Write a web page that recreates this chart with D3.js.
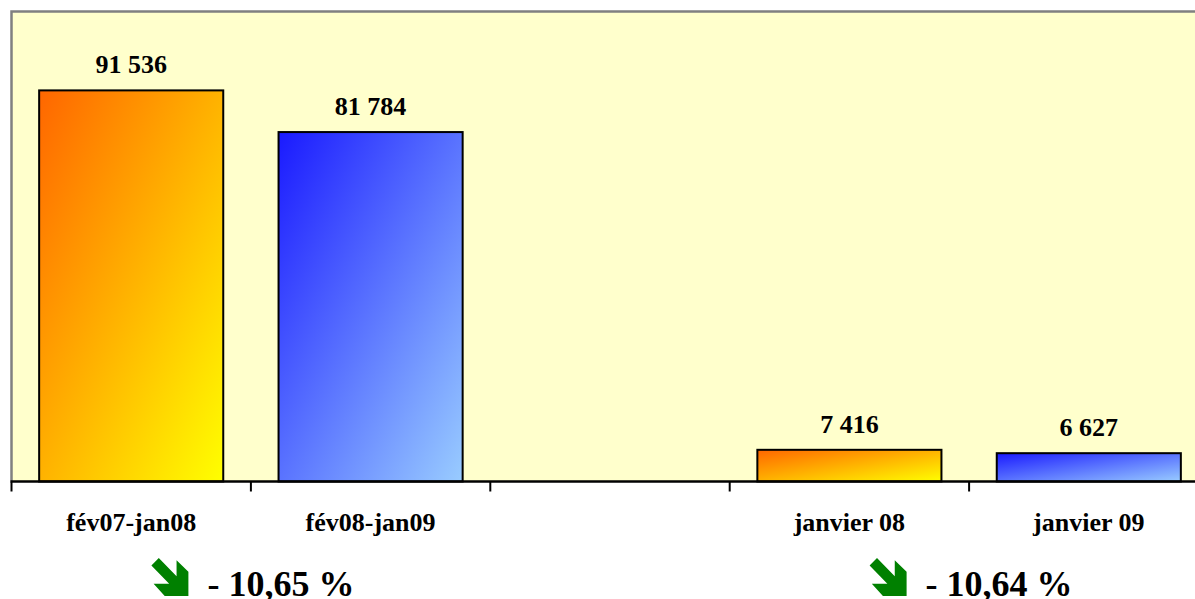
<!DOCTYPE html>
<html>
<head>
<meta charset="utf-8">
<script src="https://cdn.jsdelivr.net/npm/d3@7"></script>
<style>
  html, body { margin: 0; padding: 0; background: #ffffff; overflow: hidden; }
  svg { display: block; }
  text { font-family: "Liberation Serif", "Times New Roman", serif; font-weight: bold; fill: #000; }
</style>
</head>
<body>
<svg id="chart" width="1195" height="599"></svg>
<script>
// ---- data ----
const categories = ["fév07-jan08", "fév08-jan09", "", "janvier 08", "janvier 09"];
const values     = [91536, 81784, null, 7416, 6627];
const seriesKind = ["orange", "blue", null, "orange", "blue"];
const valueLabels = ["91 536", "81 784", "", "7 416", "6 627"];
const changeLabels = ["- 10,65 %", "- 10,64 %"];
const changeAt = [1, 4];          // boundary index (between categories) where each change label sits
const yDomain = [0, 110000];

// ---- layout ----
const svg = d3.select("#chart");
const W = 1195, H = 599;
const x0 = 11.5, x1 = 1208.5, yTop = 11.5, yBase = 481.5;

const x = d3.scaleBand().domain(d3.range(categories.length))
  .range([x0, x1]).paddingInner(0.231).paddingOuter(0.1155);
const y = d3.scaleLinear().domain(yDomain).range([yBase, yTop]);

const defs = svg.append("defs");
function grad(id, c0, c1) {
  const g = defs.append("linearGradient").attr("id", id)
    .attr("x1", 0).attr("y1", 0).attr("x2", 1).attr("y2", 1);
  g.append("stop").attr("offset", "0%").attr("stop-color", c0);
  g.append("stop").attr("offset", "100%").attr("stop-color", c1);
}
grad("g-orange", "#FF6600", "#FFFF00");
grad("g-blue", "#1A1AFF", "#99CCFF");

// plot background
svg.append("rect").attr("x", x0).attr("y", yTop)
  .attr("width", W - x0 + 5).attr("height", yBase - yTop)
  .attr("fill", "#FFFFCC");
// top & left gray border
svg.append("path")
  .attr("d", `M${x0},${yBase}V${yTop}H${W + 5}`)
  .attr("fill", "none").attr("stroke", "#808080").attr("stroke-width", 2.5);

// bars
const idx = d3.range(categories.length).filter(i => values[i] != null);
svg.append("g").selectAll("rect").data(idx).join("rect")
  .attr("x", i => x(i))
  .attr("y", i => y(values[i]))
  .attr("width", x.bandwidth())
  .attr("height", i => y(0) - y(values[i]))
  .attr("fill", i => `url(#g-${seriesKind[i]})`)
  .attr("stroke", "#000").attr("stroke-width", 2);

// value labels
svg.append("g").selectAll("text").data(idx).join("text")
  .attr("x", i => x(i) + x.bandwidth() / 2)
  .attr("y", i => y(values[i]) - 17)
  .attr("text-anchor", "middle")
  .style("font-size", "26px")
  .text(i => valueLabels[i]);

// x axis line + ticks at category boundaries
const half = (x.step() - x.bandwidth()) / 2;
const boundaries = d3.range(categories.length + 1).map(i =>
  i < categories.length ? x(i) - half : x(categories.length - 1) + x.bandwidth() + half);
svg.append("line").attr("x1", x0 - 1).attr("x2", W + 5)
  .attr("y1", yBase).attr("y2", yBase)
  .attr("stroke", "#000").attr("stroke-width", 2.5);
svg.append("g").selectAll("line").data(boundaries).join("line")
  .attr("x1", d => d).attr("x2", d => d)
  .attr("y1", yBase).attr("y2", yBase + 10)
  .attr("stroke", "#000").attr("stroke-width", 2);

// category labels
svg.append("g").selectAll("text").data(d3.range(categories.length)).join("text")
  .attr("x", i => x(i) + x.bandwidth() / 2)
  .attr("y", 531)
  .attr("text-anchor", "middle")
  .style("font-size", "26px")
  .text(i => categories[i]);

// change annotations (arrow + text), centred on a boundary
const arrowPts = [[0.2,0],[0.68,0.48],[0.68,0.06],[1,0.36],[1,1],[0.36,1],[0.06,0.68],[0.48,0.68],[0,0.2]];
changeLabels.forEach((lab, k) => {
  const cx = boundaries[changeAt[k]];
  const g = svg.append("g");
  const t = g.append("text").attr("y", 596).style("font-size", "36px").text(lab);
  const tw = t.node().getComputedTextLength();
  const aw = 37, gap = 19;
  const total = aw + gap + tw;
  const left = cx - total / 2 + 2;
  const ay = 558;
  g.append("polygon")
    .attr("points", arrowPts.map(p => [left + p[0] * aw, ay + p[1] * 38].join(",")).join(" "))
    .attr("fill", "#008000");
  t.attr("x", left + aw + gap);
});
</script>
</body>
</html>
